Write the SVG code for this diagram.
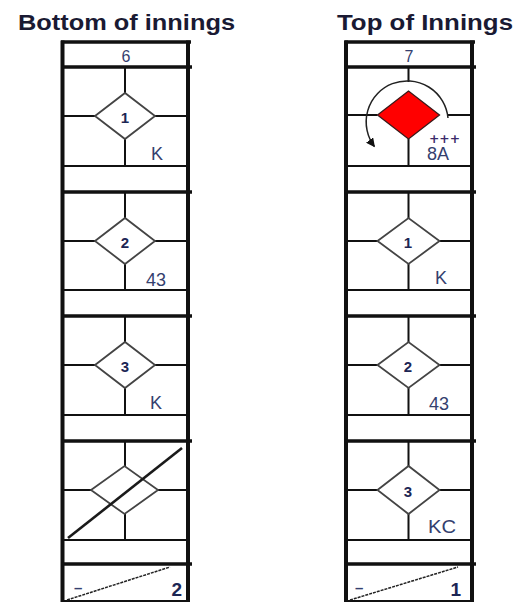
<svg xmlns="http://www.w3.org/2000/svg" width="532" height="603" viewBox="0 0 532 603">
<defs>
<style>
.bg{fill:#ffffff}
.head{font-family:"Liberation Sans",Arial,sans-serif;font-weight:bold;font-size:22px;fill:#1a1a33}
.inn{font-family:"Liberation Sans",Arial,sans-serif;font-size:16px;fill:#353f70;text-anchor:middle}
.num{font-family:"Liberation Sans",Arial,sans-serif;font-weight:bold;font-size:15px;fill:#1c2654;text-anchor:middle}
.lab{font-family:"Liberation Sans",Arial,sans-serif;font-size:18px;fill:#34406e}
.tot{font-family:"Liberation Sans",Arial,sans-serif;font-weight:bold;font-size:19px;fill:#1c2654;text-anchor:end}
.dash{font-family:"Liberation Sans",Arial,sans-serif;font-weight:bold;font-size:15px;fill:#34406e}
.frame{stroke:#111;stroke-width:4;fill:none}
.thick{stroke:#111;stroke-width:3.5;fill:none}
.thin{stroke:#111;stroke-width:2;fill:none}
.dia{stroke:#444;stroke-width:1.8;fill:#fff}
.diag{stroke:#222;stroke-width:1.5;fill:none;stroke-dasharray:3 1}
</style>
<marker id="ah" markerUnits="userSpaceOnUse" markerWidth="9" markerHeight="9" viewBox="0 0 10 10" refX="9" refY="5" orient="auto">
<path d="M0,0 L10,5 L0,10 z" fill="#111"/>
</marker>
</defs>
<rect class="bg" x="0" y="0" width="532" height="603"/>

<g id="heading-bottom"><text class="head" x="18" y="30" textLength="217" lengthAdjust="spacingAndGlyphs">Bottom of innings</text></g>
<g id="heading-top"><text class="head" x="337" y="30" textLength="176" lengthAdjust="spacingAndGlyphs">Top of Innings</text></g>

<!-- Left column: Bottom of innings -->
<g id="col-bottom-frame">
<path class="frame" d="M62.5 40.5 V602 M188 40.5 V602"/>
<path class="thick" d="M61 42 H191"/>
<path class="thick" d="M61 67 H192 M61 192 H192 M61 316 H192 M61 441 H192 M61 564 H192"/>
<path class="thin" d="M62.5 601 H188"/>
</g>
<g id="b-header"><text class="inn" x="126" y="62">6</text></g>
<g id="b-ab1">
<path class="thin" d="M125 67 V93 M125 139 V166 M62.5 116 H95 M155 116 H188 M62.5 166 H188"/>
<polygon class="dia" points="95,116 125,93 155,116 125,139"/>
<text class="num" x="125" y="123">1</text>
<text class="lab" x="151" y="160">K</text>
</g>
<g id="b-ab2">
<path class="thin" d="M125 192 V218 M125 264 V290 M62.5 241 H95 M155 241 H188 M62.5 290 H188"/>
<polygon class="dia" points="95,241 125,218 155,241 125,264"/>
<text class="num" x="125" y="248">2</text>
<text class="lab" x="146" y="286">43</text>
</g>
<g id="b-ab3">
<path class="thin" d="M125 316 V342 M125 388 V415 M62.5 365 H95 M155 365 H188 M62.5 415 H188"/>
<polygon class="dia" points="95,365 125,342 155,365 125,388"/>
<text class="num" x="125" y="372">3</text>
<text class="lab" x="150" y="409">K</text>
</g>
<g id="b-ab4">
<path class="thin" d="M125 441 V466 M125 514 V540 M62.5 490 H91 M158 490 H188 M62.5 540 H188"/>
<polygon class="dia" points="91,490 124.5,466 158,490 124.5,514"/>
<path d="M68 538 L182 448" stroke="#1a1a1a" stroke-width="2.6" fill="none"/>
</g>
<g id="b-total">
<path class="diag" d="M67 600 L170 567"/>
<text class="dash" x="74" y="593">–</text>
<text class="tot" x="182" y="596">2</text>
</g>

<!-- Right column: Top of Innings -->
<g id="col-top-frame">
<path class="frame" d="M346 40.5 V602 M472 40.5 V602"/>
<path class="thick" d="M344.5 42 H475"/>
<path class="thick" d="M344.5 67 H476 M344.5 192 H476 M344.5 316 H476 M344.5 441 H476 M344.5 564 H476"/>
<path class="thin" d="M346 601 H472"/>
</g>
<g id="t-header"><text class="inn" x="409" y="62">7</text></g>
<g id="t-ab1">
<path class="thin" d="M408.5 67 V82 M408.5 139 V166 M346 115 H377.5 M447 115 H472 M346 166 H472"/>
<polygon points="377.5,115 408.5,91 439.5,115 408.5,139" fill="#ff0000" stroke="#3a1a1a" stroke-width="1.3"/>
<text x="429" y="143" font-family="'DejaVu Sans',sans-serif" font-size="13" font-weight="bold" fill="#3a2a6a" textLength="31" lengthAdjust="spacingAndGlyphs">+++</text>
<text class="lab" x="427" y="160">8A</text>
</g>
<g id="t-ab2">
<path class="thin" d="M408.5 192 V218 M408.5 264 V290 M346 241 H377.5 M439.5 241 H472 M346 290 H472"/>
<polygon class="dia" points="377.5,241 408.5,218 439.5,241 408.5,264"/>
<text class="num" x="408" y="248">1</text>
<text class="lab" x="435" y="284">K</text>
</g>
<g id="t-ab3">
<path class="thin" d="M408.5 316 V342 M408.5 388 V415 M346 365 H377.5 M439.5 365 H472 M346 415 H472"/>
<polygon class="dia" points="377.5,365 408.5,342 439.5,365 408.5,388"/>
<text class="num" x="408" y="372">2</text>
<text class="lab" x="429" y="410">43</text>
</g>
<g id="t-ab4">
<path class="thin" d="M408.5 441 V466 M408.5 514 V540 M346 490 H377.5 M439.5 490 H472 M346 540 H472"/>
<polygon class="dia" points="377.5,490 408.5,466 439.5,490 408.5,514"/>
<text class="num" x="408" y="497">3</text>
<text class="lab" x="428" y="533" textLength="28" lengthAdjust="spacingAndGlyphs">KC</text>
</g>
<g id="t-total">
<path class="diag" d="M350 600 L458 567"/>
<text class="dash" x="355" y="593">–</text>
<text class="tot" x="461" y="596">1</text>
</g>

<g id="connectors">
<path d="M448 118 A41 41 0 1 0 374.4 146.5" fill="none" stroke="#222" stroke-width="1.5" marker-end="url(#ah)"/>
</g>
</svg>
